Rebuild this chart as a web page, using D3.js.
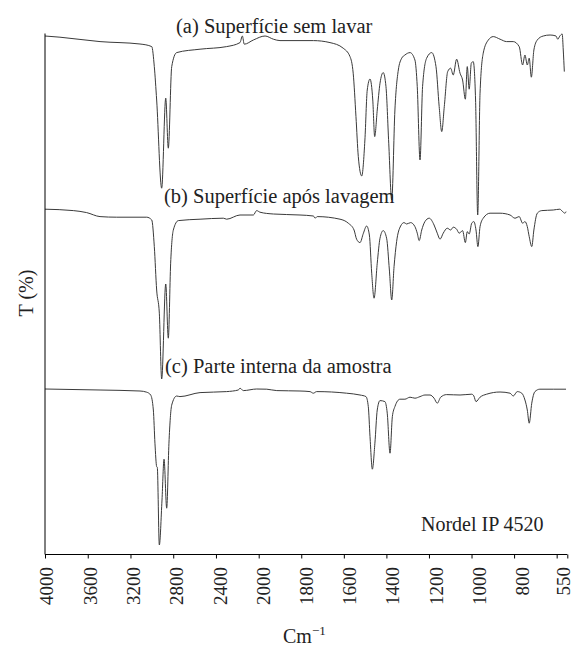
<!DOCTYPE html>
<html><head><meta charset="utf-8">
<script src="https://cdn.jsdelivr.net/npm/d3@7"></script>
<style>body{margin:0;background:#fff}svg{display:block}text{font-family:"Liberation Serif","Times New Roman",serif}</style>
</head><body>
<svg id="chart" width="574" height="647"></svg>
<script>
// ---- data (wavenumber cm-1, transmittance in arbitrary % units per trace) ----
const seriesLabels = ["(a) Superfície sem lavar", "(b) Superfície após lavagem", "(c) Parte interna da amostra"];
const tickValues = [4000,3600,3200,2800,2400,2000,1800,1600,1400,1200,1000,800,600,550];
const tickLabels = ["4000","3600","3200","2800","2400","2000","1800","1600","1400","1200","1000","800","","550"];

const waveA = [4000,3860,3485,3111,3001,2977,2955,2908,2870,2846,2814,2768,2549,2300,2175,2153,2135,2050,1970,1931,1900,1743,1665,1603,1571,1556,1543,1532,1516,1501,1490,1477,1464,1455,1443,1430,1415,1402,1389,1375,1360,1344,1328,1313,1289,1266,1255,1242,1230,1211,1187,1167,1152,1140,1128,1112,1098,1086,1070,1054,1042,1029,1020,1011,1001,992,981,971,960,945,921,898,866,835,804,776,760,749,738,729,719,707,691,663,631,603,595,585,574,569,564];
const transA = [97,96.4,94.2,93,91.7,81.7,65,20.9,65.9,40.9,81.7,88.7,90.4,91.7,93.7,97,92.9,95,97,95.4,94.7,94.7,93.7,90.9,86.7,78.4,56.7,36.7,27,45,70,75.5,65,46.7,60,73.4,78.7,71.7,43.4,15,60,80,85.9,87.5,88.7,85,71.7,35,71.7,85.9,88.7,81.7,61.7,49.2,61.7,79.2,80.9,77.5,85.4,78.4,75,65.4,81.7,70.4,83.4,84.2,65,7.5,68.4,88.4,95,96.7,95.4,94.2,94.2,91.7,82.5,87.5,82.5,85.9,76.4,90,95,97,97.5,97,95.4,97,98,90,79.2];

const waveB = [4000,3735,3610,3485,3329,3048,3001,2977,2955,2930,2908,2870,2846,2824,2799,2752,2549,2331,2300,2175,2050,2019,1994,1931,1806,1743,1735,1725,1618,1579,1552,1540,1524,1508,1493,1480,1469,1458,1443,1430,1415,1399,1386,1375,1364,1352,1333,1317,1305,1286,1266,1255,1246,1234,1219,1199,1176,1161,1148,1133,1114,1098,1086,1070,1058,1042,1029,1020,1011,999,989,979,970,960,945,913,866,819,796,776,760,749,738,729,717,707,691,670,616,585,572,561,556];
const transB = [95.4,94.7,93.7,91.7,91.4,91.4,90,76.7,55,43.4,10.5,58,30.9,68.4,85,89.7,90.4,90.9,90.4,92.5,92.5,94.7,93.9,93,92.5,92,90.9,91.7,90.4,88.4,85,80.4,78.7,83.4,87,82.5,63.4,50.9,68.4,80.9,84.7,80.9,65,50,66.7,79.2,87,88.7,88,88.7,86.7,83.4,79.7,85,89.2,90.9,87.5,83.4,80.4,83.4,85.9,85,86.4,85.4,83.4,84.7,78.7,84.2,83,88.4,89.2,85,76.7,86.7,90.9,93.4,93.4,92.5,90.9,91.7,88.4,89.2,86.7,81.7,76.7,85,93.4,94.7,95,95.4,94.2,93.4,94.2];

const waveC = [4000,3485,3111,3048,3011,2986,2971,2955,2949,2930,2905,2886,2861,2840,2814,2768,2737,2549,2300,2191,2175,2144,2019,1962,1915,1806,1759,1743,1728,1587,1524,1496,1485,1477,1466,1454,1443,1430,1407,1396,1383,1372,1360,1336,1313,1289,1266,1242,1219,1195,1176,1161,1145,1117,1054,999,989,979,960,929,866,819,804,785,764,749,738,729,717,702,679,616,556];
const transC = [90.5,90,89.5,88.9,87.5,80,63.4,51.7,51.3,12.5,35,55.4,30.9,63.4,82.5,87,86.7,88.7,89.2,90,90.9,89.7,90.5,90.4,89.7,89.5,89.2,88.4,89.2,88.4,87.5,86.7,81.7,66.7,50.4,63.4,80,84.7,84.2,78.4,58.4,76.7,81.7,85.4,85.4,86.4,85.9,86.7,87.5,87.5,85.9,83.4,86.4,87.7,87.5,87.9,87,84.2,86.4,87.9,89,88.4,87,89.2,88.4,85,80,73.4,83.4,89.2,90.4,90.4,90.4];

// ---- layout ----
const svg = d3.select("#chart");
const font = "Liberation Serif, Times New Roman, serif";
const axisY = 554.5, axisLeft = 45, axisRight = 567.3, axisTop = 33.5;
const traceTops = [30, 200, 370];
const labelPos = [[176,33],[164,203],[165,373]];

const x = d3.scaleLinear().domain([4000, 2000, 550]).range([axisLeft, 258.7, axisRight]);
const y = d3.scaleLinear().domain([0, 100]).range([200, 0]);

const series = [
  waveA.map((w,i)=>({w, t: transA[i]})),
  waveB.map((w,i)=>({w, t: transB[i]})),
  waveC.map((w,i)=>({w, t: transC[i]}))
];

const line = d3.line().x(d=>x(d.w)).y(d=>y(d.t)).curve(d3.curveMonotoneX);

series.forEach((s, i) => {
  svg.append("g").attr("transform", `translate(0,${traceTops[i]})`)
    .append("path").datum(s).attr("d", line)
    .attr("fill","none").attr("stroke","#3a3a3a").attr("stroke-width",1).attr("stroke-linejoin","round");
});

// x axis
const xAxis = d3.axisBottom(x).tickValues(tickValues)
  .tickFormat((d,i)=>tickLabels[i]).tickSize(4).tickSizeOuter(0);
const gx = svg.append("g").attr("transform", `translate(0,${axisY})`).call(xAxis)
  .attr("font-family", font);
gx.select(".domain").attr("stroke","#000").attr("d", `M${axisLeft},0H${axisRight}`);
gx.selectAll(".tick line").attr("stroke","#000");
gx.selectAll(".tick text")
  .attr("transform","rotate(-90)")
  .attr("text-anchor","end")
  .attr("x",-12.5)
  .attr("y",(d,i)=> d===550 ? 2.5 : 7.7 + 0.6*i)
  .attr("dy",0)
  .attr("font-family",font).attr("font-size",19).attr("fill","#222");

// y axis (line only)
svg.append("line").attr("x1",axisLeft).attr("x2",axisLeft).attr("y1",axisTop).attr("y2",axisY)
  .attr("stroke","#000").attr("stroke-width",1);

// labels
seriesLabels.forEach((t,i)=>{
  svg.append("text").attr("x",labelPos[i][0]).attr("y",labelPos[i][1])
    .attr("font-family",font).attr("font-size",20.5).attr("fill","#222").text(t);
});
svg.append("text").attr("x",421).attr("y",531).attr("font-family",font).attr("font-size",20).attr("fill","#222").text("Nordel IP 4520");

const xl = svg.append("text").attr("x",283).attr("y",643).attr("font-family",font).attr("font-size",20).attr("fill","#222");
xl.append("tspan").text("Cm");
xl.append("tspan").attr("font-size",13).attr("dy",-8).text("−1");

svg.append("text").attr("transform","translate(33,293) rotate(-90)").attr("text-anchor","middle")
  .attr("font-family",font).attr("font-size",20).attr("fill","#222").text("T (%)");
</script>
</body></html>
